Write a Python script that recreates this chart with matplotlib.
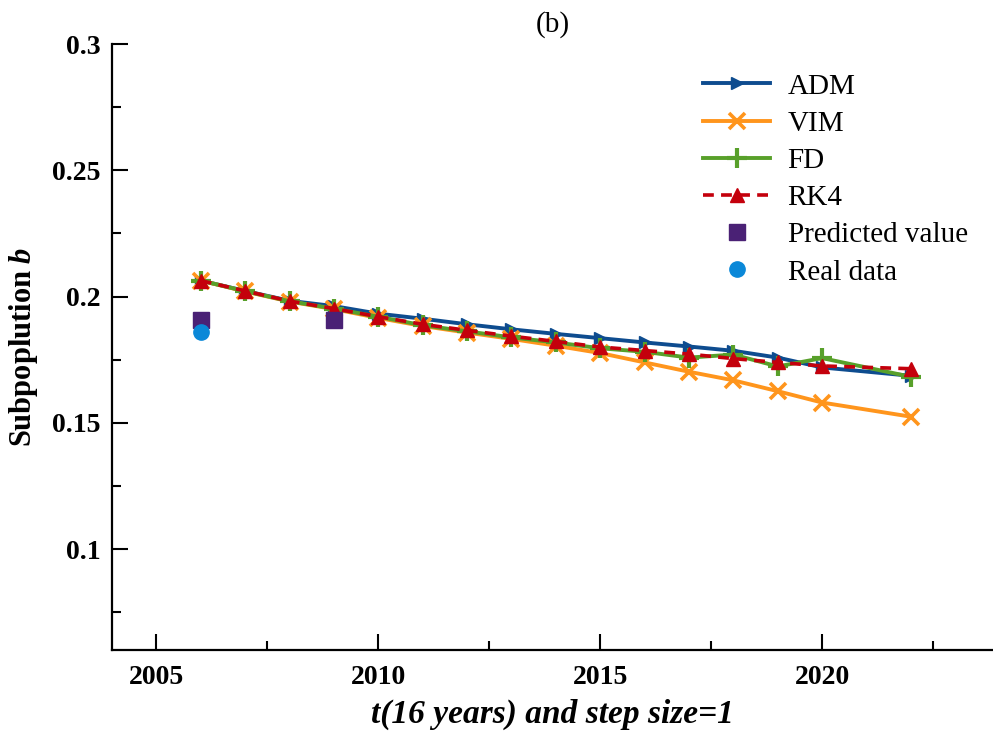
import numpy
import matplotlib
matplotlib.use('Agg')
import matplotlib.pyplot as plt
from matplotlib.ticker import MultipleLocator

years = [2006, 2007, 2008, 2009, 2010, 2011, 2012, 2013, 2014, 2015, 2016, 2017, 2018, 2019, 2020, 2022]

adm = [0.2063, 0.2022, 0.1983, 0.1962, 0.1932, 0.1912, 0.1890, 0.1870, 0.1852, 0.1835,
       0.1818, 0.1802, 0.1785, 0.1758, 0.1719, 0.1686]
vim = [0.2063, 0.2020, 0.1980, 0.1950, 0.1915, 0.1883, 0.1857, 0.1832, 0.1805, 0.1776,
       0.1739, 0.1702, 0.1668, 0.1625, 0.1580, 0.1524]
fd = [0.2063, 0.2021, 0.1981, 0.1952, 0.1920, 0.1886, 0.1862, 0.1838, 0.1818, 0.1795,
      0.1781, 0.1758, 0.1770, 0.1723, 0.1756, 0.1682]
rk4 = [0.2063, 0.2022, 0.1982, 0.1952, 0.1920, 0.1890, 0.1866, 0.1843, 0.1822, 0.1800,
       0.1786, 0.1772, 0.1754, 0.1739, 0.1725, 0.1714]

pred_years = [2006, 2009]
pred_vals = [0.1905, 0.1905]
real_years = [2006]
real_vals = [0.186]

yticks = [0.1, 0.15, 0.2, 0.25, 0.3]
ytick_labels = ['0.1', '0.15', '0.2', '0.25', '0.3']
xticks = [2005, 2010, 2015, 2020]

plt.rcParams["font.family"] = "Liberation Serif"
plt.rcParams["mathtext.fontset"] = "custom"
plt.rcParams["mathtext.it"] = "Liberation Serif:italic:bold"
plt.rcParams["font.size"] = 20

fig = plt.figure(figsize=(9.93, 7.31), dpi=100)
ax = fig.add_axes([0.1128, 0.1108, 0.8872, 0.829])

ax.plot(years, adm, color='#0E4C8F', lw=2.8, marker='>', ms=9, label='ADM')
ax.plot(years, vim, color='#FF951C', lw=2.8, marker='x', ms=12, mew=2.6, label='VIM')
ax.plot(years, fd, color='#58A02A', lw=2.8, marker='+', ms=15, mew=3, label='FD')
ax.plot(years, rk4, color='#C4000C', lw=2.6, ls=(0, (3, 2)), marker='^', ms=10, label='RK4')
ax.plot(pred_years, pred_vals, ls='none', color='#4A2175', marker='s', ms=11, label='Predicted value')
ax.plot(real_years, real_vals, ls='none', color='#0A88D8', marker='o', ms=11, label='Real data')

ax.set_xlim(2004, 2023.85)
ax.set_ylim(0.06, 0.3)
ax.set_xticks(xticks)
ax.xaxis.set_minor_locator(MultipleLocator(2.5))
ax.set_yticks(yticks)
ax.set_yticklabels(ytick_labels)
ax.yaxis.set_minor_locator(MultipleLocator(0.025))

for s in ['top', 'right']:
    ax.spines[s].set_visible(False)
for s in ['left', 'bottom']:
    ax.spines[s].set_linewidth(1.6)

ax.tick_params(which='major', direction='in', length=11.5, width=1.5, pad=8)
ax.tick_params(axis='x', which='major', pad=11)
ax.tick_params(which='minor', direction='in', length=6.5, width=1.5)
for lab in ax.get_xticklabels() + ax.get_yticklabels():
    lab.set_fontweight('bold')

ax.set_xlabel('t(16 years) and step size=1', fontsize=24, fontweight='bold',
              fontstyle='italic', labelpad=6)
ax.set_ylabel('Subpoplution $b$', fontsize=22, fontweight='bold', labelpad=9)
ax.set_title('(b)', fontsize=21, pad=9)

ax.legend(loc='upper left', bbox_to_anchor=(0.708, 0.90), bbox_transform=fig.transFigure,
          frameon=False, fontsize=21, handlelength=2.3, handletextpad=0.6,
          labelspacing=0.37, borderpad=0, borderaxespad=0)

fig.savefig('out.png', dpi=100)
